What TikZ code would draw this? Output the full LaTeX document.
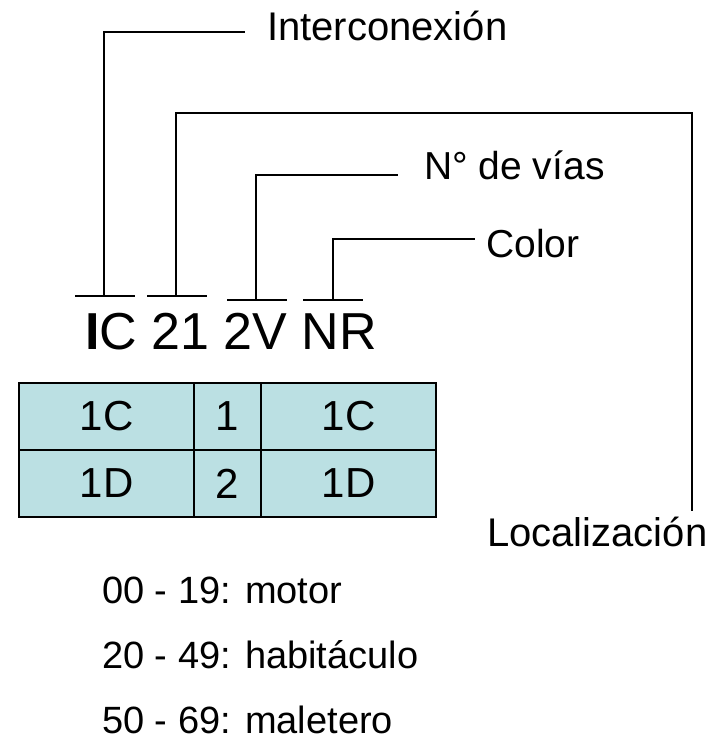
\documentclass[tikz,border=0pt]{standalone}
\usepackage{fontspec}
\setmainfont{Liberation Sans}
\definecolor{cellblue}{RGB}{187,224,227}
\begin{document}
\begin{tikzpicture}[x=1pt,y=-1pt,
  lead/.style={line width=1.6pt,black},
  lbl/.style={anchor=base west,inner sep=0pt,font=\fontsize{39}{46}\selectfont},
  lst/.style={anchor=base west,inner sep=0pt,text depth=0pt,font=\fontsize{38}{45}\selectfont},
  cell/.style={draw=black,line width=1.6pt,fill=cellblue,minimum height=67pt,inner sep=0pt,font=\fontsize{42}{50}\selectfont}]
\useasboundingbox (0,0) rectangle (723,742);
% labels
\node[lbl,font=\fontsize{40}{48}\selectfont] (inter) at (267,40) {Interconexión};
\node[lbl] (vias) at (424,179) {N° de vías};
\node[lbl] (color) at (486,257) {Color};
\node[lbl,font=\fontsize{40}{48}\selectfont] (loc) at (487,546) {Localización};
\node[anchor=base west,inner sep=0pt,font=\fontsize{52}{60}\selectfont] (code) at (85,349) {\textbf{I}C 21 2V NR};
% bars
\coordinate (b1l) at (75,296); \coordinate (b1r) at (135,296); \coordinate (b1) at (104,296);
\coordinate (b2l) at (147,296); \coordinate (b2r) at (207,296); \coordinate (b2) at (176,296);
\coordinate (b3l) at (227,300); \coordinate (b3r) at (287,300); \coordinate (b3) at (256,300);
\coordinate (b4l) at (303,300); \coordinate (b4r) at (363,300); \coordinate (b4) at (333,300);
\draw[lead] (b1l) -- (b1r);
\draw[lead] (b2l) -- (b2r);
\draw[lead] (b3l) -- (b3r);
\draw[lead] (b4l) -- (b4r);
% leaders
\coordinate (e1) at (245,32);
\coordinate (e2) at (692,511);
\coordinate (e3) at (398,175);
\coordinate (e4) at (475,239);
\draw[lead] (b1) |- (e1);
\draw[lead] (b2) -- (176,113) -| (e2);
\draw[lead] (b3) |- (e3);
\draw[lead] (b4) |- (e4);
% table
\node[cell,minimum width=175pt] (c11) at (106.5,416.5) {1C};
\node[cell,minimum width=67pt] (c12) at (227.5,416.5) {1};
\node[cell,minimum width=175pt] (c13) at (348.5,416.5) {1C};
\node[cell,minimum width=175pt] (c21) at (106.5,483.5) {1D};
\node[cell,minimum width=67pt] (c22) at (227.5,483.5) {2};
\node[cell,minimum width=175pt] (c23) at (348.5,483.5) {1D};
% list
\node[lst] (l1) at (102,603) {00 - 19: motor};
\node[lst] (l2) at (102,668) {20 - 49: habitáculo};
\node[lst] (l3) at (102,733) {50 - 69: maletero};
\end{tikzpicture}
\end{document}
